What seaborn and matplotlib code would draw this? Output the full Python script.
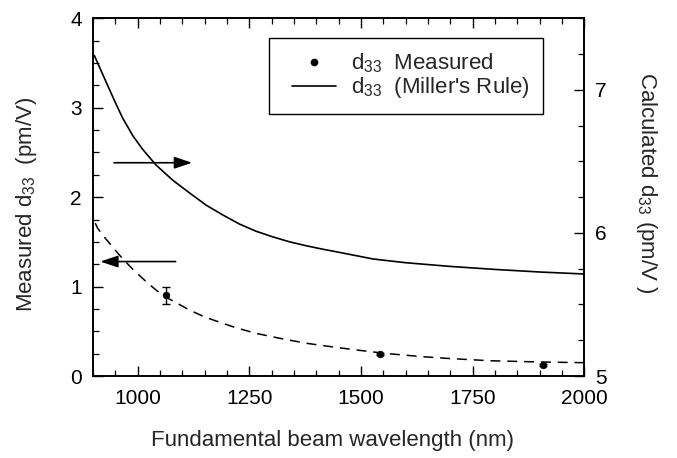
import matplotlib
matplotlib.use("Agg")
import matplotlib.pyplot as plt
import seaborn as sns
import pandas as pd
from matplotlib.lines import Line2D
from matplotlib.legend_handler import HandlerLine2D
from matplotlib.ticker import MultipleLocator

# ---- data ----
wavelength_curve = [903, 914, 929, 948, 966, 989, 1011, 1041, 1078, 1116, 1153,
                    1191, 1228, 1265, 1303, 1340, 1378, 1415, 1452, 1527, 1600,
                    1700, 1800, 1900, 2000]
miller_calc = [7.24, 7.162, 7.057, 6.925, 6.805, 6.68, 6.585, 6.475, 6.37, 6.28,
               6.195, 6.125, 6.062, 6.012, 5.972, 5.938, 5.91, 5.886, 5.864,
               5.818, 5.792, 5.766, 5.745, 5.727, 5.713]
wavelength_fit = [905, 910, 925, 937, 959, 989, 1019, 1041, 1064, 1082, 1116,
                  1150, 1191, 1220, 1265, 1320, 1378, 1430, 1490, 1560, 1639,
                  1700, 1789, 1900, 2000]
measured_fit = [1.71, 1.655, 1.555, 1.484, 1.353, 1.193, 1.055, 0.962, 0.88,
                0.831, 0.738, 0.66, 0.589, 0.54, 0.477, 0.42, 0.366, 0.33,
                0.291, 0.25, 0.216, 0.195, 0.171, 0.157, 0.149]
wavelength_meas = [1064, 1542, 1908]
measured_d33 = [0.905, 0.250, 0.125]
measured_err = [0.095, 0.012, 0.012]

x_ticks = [1000, 1250, 1500, 1750, 2000]
left_ticks = [0, 1, 2, 3, 4]
right_ticks = [5, 6, 7]

sns.set_theme(style="ticks")
plt.rcParams["font.family"] = ["Liberation Sans", "DejaVu Sans"]
plt.rcParams["mathtext.fontset"] = "custom"
plt.rcParams["mathtext.rm"] = "Liberation Sans"
plt.rcParams["mathtext.it"] = "Liberation Sans"
plt.rcParams["mathtext.default"] = "regular"

fig = plt.figure(figsize=(6.77, 4.58), dpi=100)
ax = fig.add_axes([0.1374, 0.179, 0.7256, 0.781])
ax2 = ax.twinx()

df_fit = pd.DataFrame({"wl": wavelength_fit, "d": measured_fit})
df_calc = pd.DataFrame({"wl": wavelength_curve, "d": miller_calc})
df_meas = pd.DataFrame({"wl": wavelength_meas, "d": measured_d33, "err": measured_err})

sns.lineplot(data=df_fit, x="wl", y="d", ax=ax, color="black", lw=1.1,
             linestyle=(0, (6.5, 4.5)))
ax.errorbar(df_meas["wl"], df_meas["d"], yerr=df_meas["err"], fmt="none",
            ecolor="black", elinewidth=1.0, capsize=3, capthick=1.0)
sns.scatterplot(data=df_meas, x="wl", y="d", ax=ax, color="black", s=24,
                edgecolor="black", zorder=5)
sns.lineplot(data=df_calc, x="wl", y="d", ax=ax2, color="black", lw=1.2)

ax.set_xlim(900, 2000)
ax.set_ylim(0, 4)
ax2.set_ylim(5, 7.5)
ax.set_xticks(x_ticks)
ax.set_yticks(left_ticks)
ax2.set_yticks(right_ticks)
ax.xaxis.set_minor_locator(MultipleLocator(50))
ax.yaxis.set_minor_locator(MultipleLocator(0.25))
ax2.yaxis.set_minor_locator(MultipleLocator(0.25))

for a in (ax, ax2):
    for s in a.spines.values():
        s.set_color("black")
        s.set_linewidth(1.2)
ax.tick_params(axis="x", which="both", direction="in", top=True, bottom=True,
               labelsize=15, pad=9, colors="black")
ax.tick_params(axis="y", which="both", direction="in", left=True, right=False,
               labelsize=15, pad=8, colors="black")
ax2.tick_params(axis="y", which="both", direction="in", right=True,
                labelsize=15, pad=8, colors="black")
for a in (ax, ax2):
    a.tick_params(which="major", length=7, width=1.0)
    a.tick_params(which="minor", length=4, width=0.9)

ax.set_xlabel("Fundamental beam wavelength (nm)", fontsize=16)
ax.xaxis.set_label_coords(0.4875, -0.152)
ax.set_ylabel("Measured d$_{33}$  (pm/V)", fontsize=16)
ax.yaxis.set_label_coords(-0.109, 0.481)
ax2.set_ylabel("Calculated d$_{33}$ (pm/V )", fontsize=16, rotation=-90)
ax2.yaxis.label.set_verticalalignment("bottom")
ax2.yaxis.set_label_coords(1.102, 0.54)

# direction arrows
arrow_right = ((947, 2.385), (1122, 2.385))
arrow_left = ((1085, 1.28), (916, 1.28))
for (x0, y0), (x1, y1) in (arrow_right, arrow_left):
    ax.annotate("", xy=(x1, y1), xytext=(x0, y0),
                arrowprops=dict(arrowstyle="-|>,head_length=0.9,head_width=0.3",
                                color="black", lw=1.2, shrinkA=0, shrinkB=0))

handles = [Line2D([], [], marker="o", color="black", ls="none", markersize=4.5),
           Line2D([], [], color="black", lw=1.2)]
labels = ["d$_{33}$  Measured", "d$_{33}$  (Miller's Rule)"]
leg = ax.legend(handles, labels, loc="upper left", bbox_to_anchor=(0.358, 0.944),
                borderaxespad=0, fontsize=16, frameon=True, fancybox=False,
                edgecolor="black", framealpha=1, handlelength=2.4,
                handletextpad=0.68, labelspacing=0.0, borderpad=0.6,
                handler_map={Line2D: HandlerLine2D(xpad=0.45)})
leg.get_frame().set_linewidth(1.0)
leg.set_zorder(10)

fig.savefig("out.png", dpi=100)
